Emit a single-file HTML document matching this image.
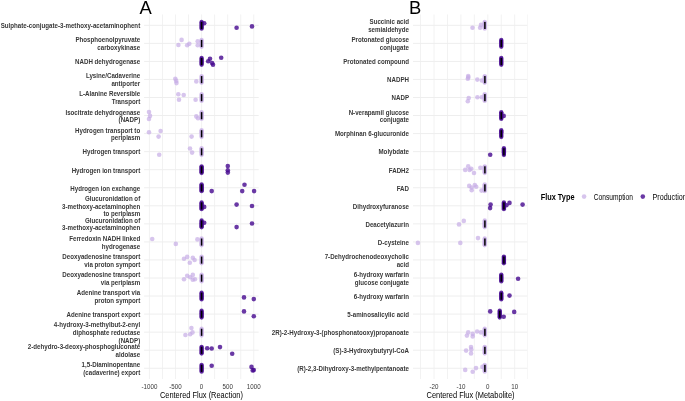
<!DOCTYPE html>
<html><head><meta charset="utf-8"><style>
html,body{margin:0;padding:0;background:#fff;}
body{width:685px;height:401px;overflow:hidden;}
svg{display:block;filter:blur(0.35px);}
text{font-family:"Liberation Sans",sans-serif;}
.g{stroke:#eeeeee;stroke-width:1;}
.gv{stroke:#f2f2f2;stroke-width:1;}
.p{fill:#45078f;fill-opacity:0.8;}
.c{fill:#c6ade6;fill-opacity:0.7;}
.yl{font-size:7.725px;font-weight:bold;fill:#383838;text-anchor:end;}
.xl{font-size:7.130px;fill:#383838;text-anchor:middle;}
.at{font-size:8.344px;fill:#000;text-anchor:middle;}
.tag{font-size:18.4px;fill:#000;}
.lt{font-size:8.464px;font-weight:bold;fill:#000;}
.ll{font-size:8.632px;fill:#000;}
</style></head><body>
<svg width="685" height="401" viewBox="0 0 685 401">
<rect width="685" height="401" fill="#fff"/>
<line x1="149.40" y1="14.45" x2="149.40" y2="379.05" class="gv"/>
<line x1="162.45" y1="14.45" x2="162.45" y2="379.05" class="gv"/>
<line x1="175.49" y1="14.45" x2="175.49" y2="379.05" class="gv"/>
<line x1="188.54" y1="14.45" x2="188.54" y2="379.05" class="gv"/>
<line x1="201.58" y1="14.45" x2="201.58" y2="379.05" class="gv"/>
<line x1="214.62" y1="14.45" x2="214.62" y2="379.05" class="gv"/>
<line x1="227.67" y1="14.45" x2="227.67" y2="379.05" class="gv"/>
<line x1="240.72" y1="14.45" x2="240.72" y2="379.05" class="gv"/>
<line x1="253.76" y1="14.45" x2="253.76" y2="379.05" class="gv"/>
<line x1="144.1" y1="25.30" x2="258.7" y2="25.30" class="g"/>
<line x1="144.1" y1="43.35" x2="258.7" y2="43.35" class="g"/>
<line x1="144.1" y1="61.40" x2="258.7" y2="61.40" class="g"/>
<line x1="144.1" y1="79.45" x2="258.7" y2="79.45" class="g"/>
<line x1="144.1" y1="97.50" x2="258.7" y2="97.50" class="g"/>
<line x1="144.1" y1="115.55" x2="258.7" y2="115.55" class="g"/>
<line x1="144.1" y1="133.60" x2="258.7" y2="133.60" class="g"/>
<line x1="144.1" y1="151.65" x2="258.7" y2="151.65" class="g"/>
<line x1="144.1" y1="169.70" x2="258.7" y2="169.70" class="g"/>
<line x1="144.1" y1="187.75" x2="258.7" y2="187.75" class="g"/>
<line x1="144.1" y1="205.80" x2="258.7" y2="205.80" class="g"/>
<line x1="144.1" y1="223.85" x2="258.7" y2="223.85" class="g"/>
<line x1="144.1" y1="241.90" x2="258.7" y2="241.90" class="g"/>
<line x1="144.1" y1="259.95" x2="258.7" y2="259.95" class="g"/>
<line x1="144.1" y1="278.00" x2="258.7" y2="278.00" class="g"/>
<line x1="144.1" y1="296.05" x2="258.7" y2="296.05" class="g"/>
<line x1="144.1" y1="314.10" x2="258.7" y2="314.10" class="g"/>
<line x1="144.1" y1="332.15" x2="258.7" y2="332.15" class="g"/>
<line x1="144.1" y1="350.20" x2="258.7" y2="350.20" class="g"/>
<line x1="144.1" y1="368.25" x2="258.7" y2="368.25" class="g"/>
<line x1="420.55" y1="14.45" x2="420.55" y2="379.05" class="gv"/>
<line x1="434.00" y1="14.45" x2="434.00" y2="379.05" class="gv"/>
<line x1="447.45" y1="14.45" x2="447.45" y2="379.05" class="gv"/>
<line x1="460.90" y1="14.45" x2="460.90" y2="379.05" class="gv"/>
<line x1="474.35" y1="14.45" x2="474.35" y2="379.05" class="gv"/>
<line x1="487.80" y1="14.45" x2="487.80" y2="379.05" class="gv"/>
<line x1="501.25" y1="14.45" x2="501.25" y2="379.05" class="gv"/>
<line x1="514.70" y1="14.45" x2="514.70" y2="379.05" class="gv"/>
<line x1="413.0" y1="25.30" x2="528.0" y2="25.30" class="g"/>
<line x1="413.0" y1="43.35" x2="528.0" y2="43.35" class="g"/>
<line x1="413.0" y1="61.40" x2="528.0" y2="61.40" class="g"/>
<line x1="413.0" y1="79.45" x2="528.0" y2="79.45" class="g"/>
<line x1="413.0" y1="97.50" x2="528.0" y2="97.50" class="g"/>
<line x1="413.0" y1="115.55" x2="528.0" y2="115.55" class="g"/>
<line x1="413.0" y1="133.60" x2="528.0" y2="133.60" class="g"/>
<line x1="413.0" y1="151.65" x2="528.0" y2="151.65" class="g"/>
<line x1="413.0" y1="169.70" x2="528.0" y2="169.70" class="g"/>
<line x1="413.0" y1="187.75" x2="528.0" y2="187.75" class="g"/>
<line x1="413.0" y1="205.80" x2="528.0" y2="205.80" class="g"/>
<line x1="413.0" y1="223.85" x2="528.0" y2="223.85" class="g"/>
<line x1="413.0" y1="241.90" x2="528.0" y2="241.90" class="g"/>
<line x1="413.0" y1="259.95" x2="528.0" y2="259.95" class="g"/>
<line x1="413.0" y1="278.00" x2="528.0" y2="278.00" class="g"/>
<line x1="413.0" y1="296.05" x2="528.0" y2="296.05" class="g"/>
<line x1="413.0" y1="314.10" x2="528.0" y2="314.10" class="g"/>
<line x1="413.0" y1="332.15" x2="528.0" y2="332.15" class="g"/>
<line x1="413.0" y1="350.20" x2="528.0" y2="350.20" class="g"/>
<line x1="413.0" y1="368.25" x2="528.0" y2="368.25" class="g"/>
<line x1="527.55" y1="14.45" x2="527.55" y2="379.05" stroke="#f6f6f6" stroke-width="0.9"/>
<circle cx="201.60" cy="21.90" r="2.15" class="p"/>
<circle cx="201.60" cy="22.87" r="2.15" class="p"/>
<circle cx="201.60" cy="23.84" r="2.15" class="p"/>
<circle cx="201.60" cy="24.81" r="2.15" class="p"/>
<circle cx="201.60" cy="25.79" r="2.15" class="p"/>
<circle cx="201.60" cy="26.76" r="2.15" class="p"/>
<circle cx="201.60" cy="27.73" r="2.15" class="p"/>
<circle cx="201.60" cy="28.70" r="2.15" class="p"/>
<circle cx="201.60" cy="39.95" r="2.15" class="c"/>
<circle cx="201.60" cy="40.92" r="2.15" class="c"/>
<circle cx="201.60" cy="41.89" r="2.15" class="c"/>
<circle cx="201.60" cy="42.86" r="2.15" class="c"/>
<circle cx="201.60" cy="43.84" r="2.15" class="c"/>
<circle cx="201.60" cy="44.81" r="2.15" class="c"/>
<circle cx="201.60" cy="45.78" r="2.15" class="c"/>
<circle cx="201.60" cy="46.75" r="2.15" class="c"/>
<circle cx="201.60" cy="58.00" r="2.15" class="p"/>
<circle cx="201.60" cy="58.97" r="2.15" class="p"/>
<circle cx="201.60" cy="59.94" r="2.15" class="p"/>
<circle cx="201.60" cy="60.91" r="2.15" class="p"/>
<circle cx="201.60" cy="61.89" r="2.15" class="p"/>
<circle cx="201.60" cy="62.86" r="2.15" class="p"/>
<circle cx="201.60" cy="63.83" r="2.15" class="p"/>
<circle cx="201.60" cy="64.80" r="2.15" class="p"/>
<circle cx="201.60" cy="76.05" r="2.15" class="c"/>
<circle cx="201.60" cy="77.02" r="2.15" class="c"/>
<circle cx="201.60" cy="77.99" r="2.15" class="c"/>
<circle cx="201.60" cy="78.96" r="2.15" class="c"/>
<circle cx="201.60" cy="79.94" r="2.15" class="c"/>
<circle cx="201.60" cy="80.91" r="2.15" class="c"/>
<circle cx="201.60" cy="81.88" r="2.15" class="c"/>
<circle cx="201.60" cy="82.85" r="2.15" class="c"/>
<circle cx="201.60" cy="94.10" r="2.15" class="c"/>
<circle cx="201.60" cy="95.07" r="2.15" class="c"/>
<circle cx="201.60" cy="96.04" r="2.15" class="c"/>
<circle cx="201.60" cy="97.01" r="2.15" class="c"/>
<circle cx="201.60" cy="97.99" r="2.15" class="c"/>
<circle cx="201.60" cy="98.96" r="2.15" class="c"/>
<circle cx="201.60" cy="99.93" r="2.15" class="c"/>
<circle cx="201.60" cy="100.90" r="2.15" class="c"/>
<circle cx="201.60" cy="112.15" r="2.15" class="c"/>
<circle cx="201.60" cy="113.12" r="2.15" class="c"/>
<circle cx="201.60" cy="114.09" r="2.15" class="c"/>
<circle cx="201.60" cy="115.06" r="2.15" class="c"/>
<circle cx="201.60" cy="116.04" r="2.15" class="c"/>
<circle cx="201.60" cy="117.01" r="2.15" class="c"/>
<circle cx="201.60" cy="117.98" r="2.15" class="c"/>
<circle cx="201.60" cy="118.95" r="2.15" class="c"/>
<circle cx="201.60" cy="130.20" r="2.15" class="c"/>
<circle cx="201.60" cy="131.17" r="2.15" class="c"/>
<circle cx="201.60" cy="132.14" r="2.15" class="c"/>
<circle cx="201.60" cy="133.11" r="2.15" class="c"/>
<circle cx="201.60" cy="134.09" r="2.15" class="c"/>
<circle cx="201.60" cy="135.06" r="2.15" class="c"/>
<circle cx="201.60" cy="136.03" r="2.15" class="c"/>
<circle cx="201.60" cy="137.00" r="2.15" class="c"/>
<circle cx="201.60" cy="148.25" r="2.15" class="c"/>
<circle cx="201.60" cy="149.22" r="2.15" class="c"/>
<circle cx="201.60" cy="150.19" r="2.15" class="c"/>
<circle cx="201.60" cy="151.16" r="2.15" class="c"/>
<circle cx="201.60" cy="152.14" r="2.15" class="c"/>
<circle cx="201.60" cy="153.11" r="2.15" class="c"/>
<circle cx="201.60" cy="154.08" r="2.15" class="c"/>
<circle cx="201.60" cy="155.05" r="2.15" class="c"/>
<circle cx="201.60" cy="166.30" r="2.15" class="p"/>
<circle cx="201.60" cy="167.27" r="2.15" class="p"/>
<circle cx="201.60" cy="168.24" r="2.15" class="p"/>
<circle cx="201.60" cy="169.21" r="2.15" class="p"/>
<circle cx="201.60" cy="170.19" r="2.15" class="p"/>
<circle cx="201.60" cy="171.16" r="2.15" class="p"/>
<circle cx="201.60" cy="172.13" r="2.15" class="p"/>
<circle cx="201.60" cy="173.10" r="2.15" class="p"/>
<circle cx="201.60" cy="184.35" r="2.15" class="p"/>
<circle cx="201.60" cy="185.32" r="2.15" class="p"/>
<circle cx="201.60" cy="186.29" r="2.15" class="p"/>
<circle cx="201.60" cy="187.26" r="2.15" class="p"/>
<circle cx="201.60" cy="188.24" r="2.15" class="p"/>
<circle cx="201.60" cy="189.21" r="2.15" class="p"/>
<circle cx="201.60" cy="190.18" r="2.15" class="p"/>
<circle cx="201.60" cy="191.15" r="2.15" class="p"/>
<circle cx="201.60" cy="202.40" r="2.15" class="p"/>
<circle cx="201.60" cy="203.37" r="2.15" class="p"/>
<circle cx="201.60" cy="204.34" r="2.15" class="p"/>
<circle cx="201.60" cy="205.31" r="2.15" class="p"/>
<circle cx="201.60" cy="206.29" r="2.15" class="p"/>
<circle cx="201.60" cy="207.26" r="2.15" class="p"/>
<circle cx="201.60" cy="208.23" r="2.15" class="p"/>
<circle cx="201.60" cy="209.20" r="2.15" class="p"/>
<circle cx="201.60" cy="220.45" r="2.15" class="p"/>
<circle cx="201.60" cy="221.42" r="2.15" class="p"/>
<circle cx="201.60" cy="222.39" r="2.15" class="p"/>
<circle cx="201.60" cy="223.36" r="2.15" class="p"/>
<circle cx="201.60" cy="224.34" r="2.15" class="p"/>
<circle cx="201.60" cy="225.31" r="2.15" class="p"/>
<circle cx="201.60" cy="226.28" r="2.15" class="p"/>
<circle cx="201.60" cy="227.25" r="2.15" class="p"/>
<circle cx="201.60" cy="238.50" r="2.15" class="c"/>
<circle cx="201.60" cy="239.47" r="2.15" class="c"/>
<circle cx="201.60" cy="240.44" r="2.15" class="c"/>
<circle cx="201.60" cy="241.41" r="2.15" class="c"/>
<circle cx="201.60" cy="242.39" r="2.15" class="c"/>
<circle cx="201.60" cy="243.36" r="2.15" class="c"/>
<circle cx="201.60" cy="244.33" r="2.15" class="c"/>
<circle cx="201.60" cy="245.30" r="2.15" class="c"/>
<circle cx="201.60" cy="256.55" r="2.15" class="c"/>
<circle cx="201.60" cy="257.52" r="2.15" class="c"/>
<circle cx="201.60" cy="258.49" r="2.15" class="c"/>
<circle cx="201.60" cy="259.46" r="2.15" class="c"/>
<circle cx="201.60" cy="260.44" r="2.15" class="c"/>
<circle cx="201.60" cy="261.41" r="2.15" class="c"/>
<circle cx="201.60" cy="262.38" r="2.15" class="c"/>
<circle cx="201.60" cy="263.35" r="2.15" class="c"/>
<circle cx="201.60" cy="274.60" r="2.15" class="c"/>
<circle cx="201.60" cy="275.57" r="2.15" class="c"/>
<circle cx="201.60" cy="276.54" r="2.15" class="c"/>
<circle cx="201.60" cy="277.51" r="2.15" class="c"/>
<circle cx="201.60" cy="278.49" r="2.15" class="c"/>
<circle cx="201.60" cy="279.46" r="2.15" class="c"/>
<circle cx="201.60" cy="280.43" r="2.15" class="c"/>
<circle cx="201.60" cy="281.40" r="2.15" class="c"/>
<circle cx="201.60" cy="292.65" r="2.15" class="p"/>
<circle cx="201.60" cy="293.62" r="2.15" class="p"/>
<circle cx="201.60" cy="294.59" r="2.15" class="p"/>
<circle cx="201.60" cy="295.56" r="2.15" class="p"/>
<circle cx="201.60" cy="296.54" r="2.15" class="p"/>
<circle cx="201.60" cy="297.51" r="2.15" class="p"/>
<circle cx="201.60" cy="298.48" r="2.15" class="p"/>
<circle cx="201.60" cy="299.45" r="2.15" class="p"/>
<circle cx="201.60" cy="310.70" r="2.15" class="p"/>
<circle cx="201.60" cy="311.67" r="2.15" class="p"/>
<circle cx="201.60" cy="312.64" r="2.15" class="p"/>
<circle cx="201.60" cy="313.61" r="2.15" class="p"/>
<circle cx="201.60" cy="314.59" r="2.15" class="p"/>
<circle cx="201.60" cy="315.56" r="2.15" class="p"/>
<circle cx="201.60" cy="316.53" r="2.15" class="p"/>
<circle cx="201.60" cy="317.50" r="2.15" class="p"/>
<circle cx="201.60" cy="328.75" r="2.15" class="c"/>
<circle cx="201.60" cy="329.72" r="2.15" class="c"/>
<circle cx="201.60" cy="330.69" r="2.15" class="c"/>
<circle cx="201.60" cy="331.66" r="2.15" class="c"/>
<circle cx="201.60" cy="332.64" r="2.15" class="c"/>
<circle cx="201.60" cy="333.61" r="2.15" class="c"/>
<circle cx="201.60" cy="334.58" r="2.15" class="c"/>
<circle cx="201.60" cy="335.55" r="2.15" class="c"/>
<circle cx="201.60" cy="346.80" r="2.15" class="p"/>
<circle cx="201.60" cy="347.77" r="2.15" class="p"/>
<circle cx="201.60" cy="348.74" r="2.15" class="p"/>
<circle cx="201.60" cy="349.71" r="2.15" class="p"/>
<circle cx="201.60" cy="350.69" r="2.15" class="p"/>
<circle cx="201.60" cy="351.66" r="2.15" class="p"/>
<circle cx="201.60" cy="352.63" r="2.15" class="p"/>
<circle cx="201.60" cy="353.60" r="2.15" class="p"/>
<circle cx="201.60" cy="364.85" r="2.15" class="p"/>
<circle cx="201.60" cy="365.82" r="2.15" class="p"/>
<circle cx="201.60" cy="366.79" r="2.15" class="p"/>
<circle cx="201.60" cy="367.76" r="2.15" class="p"/>
<circle cx="201.60" cy="368.74" r="2.15" class="p"/>
<circle cx="201.60" cy="369.71" r="2.15" class="p"/>
<circle cx="201.60" cy="370.68" r="2.15" class="p"/>
<circle cx="201.60" cy="371.65" r="2.15" class="p"/>
<circle cx="204.20" cy="23.30" r="2.3" class="p"/>
<circle cx="236.60" cy="27.70" r="2.3" class="p"/>
<circle cx="252.00" cy="26.40" r="2.3" class="p"/>
<circle cx="181.60" cy="39.90" r="2.3" class="c"/>
<circle cx="178.40" cy="45.00" r="2.3" class="c"/>
<circle cx="187.20" cy="45.20" r="2.3" class="c"/>
<circle cx="189.30" cy="43.80" r="2.3" class="c"/>
<circle cx="197.70" cy="41.20" r="2.3" class="c"/>
<circle cx="197.70" cy="45.20" r="2.3" class="c"/>
<circle cx="210.00" cy="58.70" r="2.3" class="p"/>
<circle cx="208.20" cy="61.30" r="2.3" class="p"/>
<circle cx="212.10" cy="63.10" r="2.3" class="p"/>
<circle cx="213.00" cy="64.80" r="2.3" class="p"/>
<circle cx="221.20" cy="57.80" r="2.3" class="p"/>
<circle cx="175.30" cy="78.80" r="2.3" class="c"/>
<circle cx="176.20" cy="80.90" r="2.3" class="c"/>
<circle cx="176.50" cy="83.10" r="2.3" class="c"/>
<circle cx="196.30" cy="81.40" r="2.3" class="c"/>
<circle cx="178.30" cy="94.20" r="2.3" class="c"/>
<circle cx="183.70" cy="95.00" r="2.3" class="c"/>
<circle cx="179.00" cy="99.80" r="2.3" class="c"/>
<circle cx="195.60" cy="99.80" r="2.3" class="c"/>
<circle cx="149.00" cy="112.00" r="2.3" class="c"/>
<circle cx="150.00" cy="115.90" r="2.3" class="c"/>
<circle cx="149.00" cy="119.00" r="2.3" class="c"/>
<circle cx="196.30" cy="116.40" r="2.3" class="c"/>
<circle cx="198.00" cy="118.20" r="2.3" class="c"/>
<circle cx="149.00" cy="132.20" r="2.3" class="c"/>
<circle cx="160.60" cy="131.00" r="2.3" class="c"/>
<circle cx="158.60" cy="136.60" r="2.3" class="c"/>
<circle cx="191.60" cy="136.60" r="2.3" class="c"/>
<circle cx="159.20" cy="154.80" r="2.3" class="c"/>
<circle cx="190.00" cy="148.50" r="2.3" class="c"/>
<circle cx="192.10" cy="152.60" r="2.3" class="c"/>
<circle cx="227.80" cy="166.10" r="2.3" class="p"/>
<circle cx="227.80" cy="170.30" r="2.3" class="p"/>
<circle cx="227.80" cy="172.60" r="2.3" class="p"/>
<circle cx="211.70" cy="191.10" r="2.3" class="p"/>
<circle cx="244.50" cy="184.70" r="2.3" class="p"/>
<circle cx="242.20" cy="191.10" r="2.3" class="p"/>
<circle cx="254.10" cy="191.10" r="2.3" class="p"/>
<circle cx="204.20" cy="206.90" r="2.3" class="p"/>
<circle cx="236.60" cy="204.60" r="2.3" class="p"/>
<circle cx="252.00" cy="206.00" r="2.3" class="p"/>
<circle cx="204.20" cy="222.70" r="2.3" class="p"/>
<circle cx="236.60" cy="227.10" r="2.3" class="p"/>
<circle cx="252.00" cy="223.50" r="2.3" class="p"/>
<circle cx="152.20" cy="239.00" r="2.3" class="c"/>
<circle cx="175.80" cy="243.90" r="2.3" class="c"/>
<circle cx="197.40" cy="239.40" r="2.3" class="c"/>
<circle cx="184.00" cy="258.80" r="2.3" class="c"/>
<circle cx="187.20" cy="256.90" r="2.3" class="c"/>
<circle cx="192.80" cy="257.80" r="2.3" class="c"/>
<circle cx="194.60" cy="260.00" r="2.3" class="c"/>
<circle cx="189.80" cy="262.70" r="2.3" class="c"/>
<circle cx="184.00" cy="279.30" r="2.3" class="c"/>
<circle cx="187.20" cy="275.80" r="2.3" class="c"/>
<circle cx="190.20" cy="277.20" r="2.3" class="c"/>
<circle cx="192.80" cy="274.90" r="2.3" class="c"/>
<circle cx="192.80" cy="279.70" r="2.3" class="c"/>
<circle cx="194.90" cy="279.30" r="2.3" class="c"/>
<circle cx="244.00" cy="297.40" r="2.3" class="p"/>
<circle cx="253.80" cy="299.10" r="2.3" class="p"/>
<circle cx="244.00" cy="311.40" r="2.3" class="p"/>
<circle cx="253.80" cy="316.30" r="2.3" class="p"/>
<circle cx="185.40" cy="335.00" r="2.3" class="c"/>
<circle cx="190.20" cy="334.20" r="2.3" class="c"/>
<circle cx="191.40" cy="328.00" r="2.3" class="c"/>
<circle cx="192.50" cy="332.40" r="2.3" class="c"/>
<circle cx="207.20" cy="348.20" r="2.3" class="p"/>
<circle cx="211.70" cy="348.50" r="2.3" class="p"/>
<circle cx="220.00" cy="347.10" r="2.3" class="p"/>
<circle cx="232.20" cy="353.80" r="2.3" class="p"/>
<circle cx="211.70" cy="365.70" r="2.3" class="p"/>
<circle cx="251.50" cy="366.90" r="2.3" class="p"/>
<circle cx="252.70" cy="370.40" r="2.3" class="p"/>
<circle cx="253.80" cy="370.10" r="2.3" class="p"/>
<circle cx="484.70" cy="21.90" r="2.15" class="c"/>
<circle cx="484.70" cy="22.87" r="2.15" class="c"/>
<circle cx="484.70" cy="23.84" r="2.15" class="c"/>
<circle cx="484.70" cy="24.81" r="2.15" class="c"/>
<circle cx="484.70" cy="25.79" r="2.15" class="c"/>
<circle cx="484.70" cy="26.76" r="2.15" class="c"/>
<circle cx="484.70" cy="27.73" r="2.15" class="c"/>
<circle cx="484.70" cy="28.70" r="2.15" class="c"/>
<circle cx="501.30" cy="39.95" r="2.15" class="p"/>
<circle cx="501.30" cy="40.92" r="2.15" class="p"/>
<circle cx="501.30" cy="41.89" r="2.15" class="p"/>
<circle cx="501.30" cy="42.86" r="2.15" class="p"/>
<circle cx="501.30" cy="43.84" r="2.15" class="p"/>
<circle cx="501.30" cy="44.81" r="2.15" class="p"/>
<circle cx="501.30" cy="45.78" r="2.15" class="p"/>
<circle cx="501.30" cy="46.75" r="2.15" class="p"/>
<circle cx="501.30" cy="58.00" r="2.15" class="p"/>
<circle cx="501.30" cy="58.97" r="2.15" class="p"/>
<circle cx="501.30" cy="59.94" r="2.15" class="p"/>
<circle cx="501.30" cy="60.91" r="2.15" class="p"/>
<circle cx="501.30" cy="61.89" r="2.15" class="p"/>
<circle cx="501.30" cy="62.86" r="2.15" class="p"/>
<circle cx="501.30" cy="63.83" r="2.15" class="p"/>
<circle cx="501.30" cy="64.80" r="2.15" class="p"/>
<circle cx="484.70" cy="76.05" r="2.15" class="c"/>
<circle cx="484.70" cy="77.02" r="2.15" class="c"/>
<circle cx="484.70" cy="77.99" r="2.15" class="c"/>
<circle cx="484.70" cy="78.96" r="2.15" class="c"/>
<circle cx="484.70" cy="79.94" r="2.15" class="c"/>
<circle cx="484.70" cy="80.91" r="2.15" class="c"/>
<circle cx="484.70" cy="81.88" r="2.15" class="c"/>
<circle cx="484.70" cy="82.85" r="2.15" class="c"/>
<circle cx="484.70" cy="94.10" r="2.15" class="c"/>
<circle cx="484.70" cy="95.07" r="2.15" class="c"/>
<circle cx="484.70" cy="96.04" r="2.15" class="c"/>
<circle cx="484.70" cy="97.01" r="2.15" class="c"/>
<circle cx="484.70" cy="97.99" r="2.15" class="c"/>
<circle cx="484.70" cy="98.96" r="2.15" class="c"/>
<circle cx="484.70" cy="99.93" r="2.15" class="c"/>
<circle cx="484.70" cy="100.90" r="2.15" class="c"/>
<circle cx="501.30" cy="112.15" r="2.15" class="p"/>
<circle cx="501.30" cy="113.12" r="2.15" class="p"/>
<circle cx="501.30" cy="114.09" r="2.15" class="p"/>
<circle cx="501.30" cy="115.06" r="2.15" class="p"/>
<circle cx="501.30" cy="116.04" r="2.15" class="p"/>
<circle cx="501.30" cy="117.01" r="2.15" class="p"/>
<circle cx="501.30" cy="117.98" r="2.15" class="p"/>
<circle cx="501.30" cy="118.95" r="2.15" class="p"/>
<circle cx="501.30" cy="130.20" r="2.15" class="p"/>
<circle cx="501.30" cy="131.17" r="2.15" class="p"/>
<circle cx="501.30" cy="132.14" r="2.15" class="p"/>
<circle cx="501.30" cy="133.11" r="2.15" class="p"/>
<circle cx="501.30" cy="134.09" r="2.15" class="p"/>
<circle cx="501.30" cy="135.06" r="2.15" class="p"/>
<circle cx="501.30" cy="136.03" r="2.15" class="p"/>
<circle cx="501.30" cy="137.00" r="2.15" class="p"/>
<circle cx="503.90" cy="148.25" r="2.15" class="p"/>
<circle cx="503.90" cy="149.22" r="2.15" class="p"/>
<circle cx="503.90" cy="150.19" r="2.15" class="p"/>
<circle cx="503.90" cy="151.16" r="2.15" class="p"/>
<circle cx="503.90" cy="152.14" r="2.15" class="p"/>
<circle cx="503.90" cy="153.11" r="2.15" class="p"/>
<circle cx="503.90" cy="154.08" r="2.15" class="p"/>
<circle cx="503.90" cy="155.05" r="2.15" class="p"/>
<circle cx="484.70" cy="166.30" r="2.15" class="c"/>
<circle cx="484.70" cy="167.27" r="2.15" class="c"/>
<circle cx="484.70" cy="168.24" r="2.15" class="c"/>
<circle cx="484.70" cy="169.21" r="2.15" class="c"/>
<circle cx="484.70" cy="170.19" r="2.15" class="c"/>
<circle cx="484.70" cy="171.16" r="2.15" class="c"/>
<circle cx="484.70" cy="172.13" r="2.15" class="c"/>
<circle cx="484.70" cy="173.10" r="2.15" class="c"/>
<circle cx="484.70" cy="184.35" r="2.15" class="c"/>
<circle cx="484.70" cy="185.32" r="2.15" class="c"/>
<circle cx="484.70" cy="186.29" r="2.15" class="c"/>
<circle cx="484.70" cy="187.26" r="2.15" class="c"/>
<circle cx="484.70" cy="188.24" r="2.15" class="c"/>
<circle cx="484.70" cy="189.21" r="2.15" class="c"/>
<circle cx="484.70" cy="190.18" r="2.15" class="c"/>
<circle cx="484.70" cy="191.15" r="2.15" class="c"/>
<circle cx="503.90" cy="202.40" r="2.15" class="p"/>
<circle cx="503.90" cy="203.37" r="2.15" class="p"/>
<circle cx="503.90" cy="204.34" r="2.15" class="p"/>
<circle cx="503.90" cy="205.31" r="2.15" class="p"/>
<circle cx="503.90" cy="206.29" r="2.15" class="p"/>
<circle cx="503.90" cy="207.26" r="2.15" class="p"/>
<circle cx="503.90" cy="208.23" r="2.15" class="p"/>
<circle cx="503.90" cy="209.20" r="2.15" class="p"/>
<circle cx="484.70" cy="220.45" r="2.15" class="c"/>
<circle cx="484.70" cy="221.42" r="2.15" class="c"/>
<circle cx="484.70" cy="222.39" r="2.15" class="c"/>
<circle cx="484.70" cy="223.36" r="2.15" class="c"/>
<circle cx="484.70" cy="224.34" r="2.15" class="c"/>
<circle cx="484.70" cy="225.31" r="2.15" class="c"/>
<circle cx="484.70" cy="226.28" r="2.15" class="c"/>
<circle cx="484.70" cy="227.25" r="2.15" class="c"/>
<circle cx="484.70" cy="238.50" r="2.15" class="c"/>
<circle cx="484.70" cy="239.47" r="2.15" class="c"/>
<circle cx="484.70" cy="240.44" r="2.15" class="c"/>
<circle cx="484.70" cy="241.41" r="2.15" class="c"/>
<circle cx="484.70" cy="242.39" r="2.15" class="c"/>
<circle cx="484.70" cy="243.36" r="2.15" class="c"/>
<circle cx="484.70" cy="244.33" r="2.15" class="c"/>
<circle cx="484.70" cy="245.30" r="2.15" class="c"/>
<circle cx="503.90" cy="256.55" r="2.15" class="p"/>
<circle cx="503.90" cy="257.52" r="2.15" class="p"/>
<circle cx="503.90" cy="258.49" r="2.15" class="p"/>
<circle cx="503.90" cy="259.46" r="2.15" class="p"/>
<circle cx="503.90" cy="260.44" r="2.15" class="p"/>
<circle cx="503.90" cy="261.41" r="2.15" class="p"/>
<circle cx="503.90" cy="262.38" r="2.15" class="p"/>
<circle cx="503.90" cy="263.35" r="2.15" class="p"/>
<circle cx="501.30" cy="274.60" r="2.15" class="p"/>
<circle cx="501.30" cy="275.57" r="2.15" class="p"/>
<circle cx="501.30" cy="276.54" r="2.15" class="p"/>
<circle cx="501.30" cy="277.51" r="2.15" class="p"/>
<circle cx="501.30" cy="278.49" r="2.15" class="p"/>
<circle cx="501.30" cy="279.46" r="2.15" class="p"/>
<circle cx="501.30" cy="280.43" r="2.15" class="p"/>
<circle cx="501.30" cy="281.40" r="2.15" class="p"/>
<circle cx="501.30" cy="292.65" r="2.15" class="p"/>
<circle cx="501.30" cy="293.62" r="2.15" class="p"/>
<circle cx="501.30" cy="294.59" r="2.15" class="p"/>
<circle cx="501.30" cy="295.56" r="2.15" class="p"/>
<circle cx="501.30" cy="296.54" r="2.15" class="p"/>
<circle cx="501.30" cy="297.51" r="2.15" class="p"/>
<circle cx="501.30" cy="298.48" r="2.15" class="p"/>
<circle cx="501.30" cy="299.45" r="2.15" class="p"/>
<circle cx="499.70" cy="310.70" r="2.15" class="p"/>
<circle cx="499.70" cy="311.67" r="2.15" class="p"/>
<circle cx="499.70" cy="312.64" r="2.15" class="p"/>
<circle cx="499.70" cy="313.61" r="2.15" class="p"/>
<circle cx="499.70" cy="314.59" r="2.15" class="p"/>
<circle cx="499.70" cy="315.56" r="2.15" class="p"/>
<circle cx="499.70" cy="316.53" r="2.15" class="p"/>
<circle cx="499.70" cy="317.50" r="2.15" class="p"/>
<circle cx="484.70" cy="328.75" r="2.15" class="c"/>
<circle cx="484.70" cy="329.72" r="2.15" class="c"/>
<circle cx="484.70" cy="330.69" r="2.15" class="c"/>
<circle cx="484.70" cy="331.66" r="2.15" class="c"/>
<circle cx="484.70" cy="332.64" r="2.15" class="c"/>
<circle cx="484.70" cy="333.61" r="2.15" class="c"/>
<circle cx="484.70" cy="334.58" r="2.15" class="c"/>
<circle cx="484.70" cy="335.55" r="2.15" class="c"/>
<circle cx="484.70" cy="346.80" r="2.15" class="c"/>
<circle cx="484.70" cy="347.77" r="2.15" class="c"/>
<circle cx="484.70" cy="348.74" r="2.15" class="c"/>
<circle cx="484.70" cy="349.71" r="2.15" class="c"/>
<circle cx="484.70" cy="350.69" r="2.15" class="c"/>
<circle cx="484.70" cy="351.66" r="2.15" class="c"/>
<circle cx="484.70" cy="352.63" r="2.15" class="c"/>
<circle cx="484.70" cy="353.60" r="2.15" class="c"/>
<circle cx="484.70" cy="364.85" r="2.15" class="c"/>
<circle cx="484.70" cy="365.82" r="2.15" class="c"/>
<circle cx="484.70" cy="366.79" r="2.15" class="c"/>
<circle cx="484.70" cy="367.76" r="2.15" class="c"/>
<circle cx="484.70" cy="368.74" r="2.15" class="c"/>
<circle cx="484.70" cy="369.71" r="2.15" class="c"/>
<circle cx="484.70" cy="370.68" r="2.15" class="c"/>
<circle cx="484.70" cy="371.65" r="2.15" class="c"/>
<circle cx="472.50" cy="27.70" r="2.3" class="c"/>
<circle cx="480.10" cy="27.70" r="2.3" class="c"/>
<circle cx="481.00" cy="24.90" r="2.3" class="c"/>
<circle cx="468.20" cy="76.10" r="2.3" class="c"/>
<circle cx="467.80" cy="78.80" r="2.3" class="c"/>
<circle cx="468.30" cy="77.40" r="2.3" class="c"/>
<circle cx="477.30" cy="79.60" r="2.3" class="c"/>
<circle cx="481.80" cy="80.50" r="2.3" class="c"/>
<circle cx="468.70" cy="98.00" r="2.3" class="c"/>
<circle cx="467.80" cy="101.20" r="2.3" class="c"/>
<circle cx="477.40" cy="97.20" r="2.3" class="c"/>
<circle cx="481.80" cy="97.20" r="2.3" class="c"/>
<circle cx="503.70" cy="115.90" r="2.3" class="p"/>
<circle cx="490.20" cy="154.80" r="2.3" class="p"/>
<circle cx="465.20" cy="169.90" r="2.3" class="c"/>
<circle cx="468.20" cy="166.40" r="2.3" class="c"/>
<circle cx="469.60" cy="169.90" r="2.3" class="c"/>
<circle cx="471.30" cy="168.70" r="2.3" class="c"/>
<circle cx="474.00" cy="173.00" r="2.3" class="c"/>
<circle cx="480.40" cy="167.80" r="2.3" class="c"/>
<circle cx="469.20" cy="185.90" r="2.3" class="c"/>
<circle cx="471.70" cy="187.60" r="2.3" class="c"/>
<circle cx="471.70" cy="190.30" r="2.3" class="c"/>
<circle cx="474.80" cy="185.00" r="2.3" class="c"/>
<circle cx="476.20" cy="186.80" r="2.3" class="c"/>
<circle cx="481.50" cy="190.60" r="2.3" class="c"/>
<circle cx="490.60" cy="204.60" r="2.3" class="p"/>
<circle cx="490.10" cy="208.10" r="2.3" class="p"/>
<circle cx="506.40" cy="205.20" r="2.3" class="p"/>
<circle cx="509.50" cy="202.90" r="2.3" class="p"/>
<circle cx="522.60" cy="204.60" r="2.3" class="p"/>
<circle cx="459.00" cy="224.40" r="2.3" class="c"/>
<circle cx="463.80" cy="220.90" r="2.3" class="c"/>
<circle cx="417.90" cy="242.90" r="2.3" class="c"/>
<circle cx="460.30" cy="242.90" r="2.3" class="c"/>
<circle cx="478.00" cy="238.10" r="2.3" class="c"/>
<circle cx="518.10" cy="278.80" r="2.3" class="p"/>
<circle cx="509.50" cy="295.60" r="2.3" class="p"/>
<circle cx="490.20" cy="311.40" r="2.3" class="p"/>
<circle cx="503.70" cy="316.70" r="2.3" class="p"/>
<circle cx="514.20" cy="311.90" r="2.3" class="p"/>
<circle cx="466.90" cy="335.60" r="2.3" class="c"/>
<circle cx="468.20" cy="332.40" r="2.3" class="c"/>
<circle cx="472.70" cy="333.90" r="2.3" class="c"/>
<circle cx="472.70" cy="336.40" r="2.3" class="c"/>
<circle cx="477.10" cy="331.50" r="2.3" class="c"/>
<circle cx="481.00" cy="332.40" r="2.3" class="c"/>
<circle cx="466.10" cy="350.60" r="2.3" class="c"/>
<circle cx="471.00" cy="347.10" r="2.3" class="c"/>
<circle cx="471.30" cy="349.40" r="2.3" class="c"/>
<circle cx="471.00" cy="353.40" r="2.3" class="c"/>
<circle cx="465.20" cy="369.90" r="2.3" class="c"/>
<circle cx="472.70" cy="371.80" r="2.3" class="c"/>
<circle cx="476.00" cy="368.10" r="2.3" class="c"/>
<circle cx="482.40" cy="366.90" r="2.3" class="c"/>
<rect x="200.85" y="21.90" width="1.5" height="7.1" fill="#000"/>
<rect x="484.15" y="21.90" width="1.5" height="7.1" fill="#000"/>
<rect x="200.85" y="39.95" width="1.5" height="7.1" fill="#000"/>
<rect x="500.55" y="39.95" width="1.5" height="7.1" fill="#000"/>
<rect x="200.85" y="58.00" width="1.5" height="7.1" fill="#000"/>
<rect x="500.55" y="58.00" width="1.5" height="7.1" fill="#000"/>
<rect x="200.85" y="76.05" width="1.5" height="7.1" fill="#000"/>
<rect x="484.15" y="76.05" width="1.5" height="7.1" fill="#000"/>
<rect x="200.85" y="94.10" width="1.5" height="7.1" fill="#000"/>
<rect x="484.15" y="94.10" width="1.5" height="7.1" fill="#000"/>
<rect x="200.85" y="112.15" width="1.5" height="7.1" fill="#000"/>
<rect x="500.55" y="112.15" width="1.5" height="7.1" fill="#000"/>
<rect x="200.85" y="130.20" width="1.5" height="7.1" fill="#000"/>
<rect x="500.55" y="130.20" width="1.5" height="7.1" fill="#000"/>
<rect x="200.85" y="148.25" width="1.5" height="7.1" fill="#000"/>
<rect x="503.15" y="148.25" width="1.5" height="7.1" fill="#000"/>
<rect x="200.85" y="166.30" width="1.5" height="7.1" fill="#000"/>
<rect x="484.15" y="166.30" width="1.5" height="7.1" fill="#000"/>
<rect x="200.85" y="184.35" width="1.5" height="7.1" fill="#000"/>
<rect x="484.15" y="184.35" width="1.5" height="7.1" fill="#000"/>
<rect x="200.85" y="202.40" width="1.5" height="7.1" fill="#000"/>
<rect x="503.15" y="202.40" width="1.5" height="7.1" fill="#000"/>
<rect x="200.85" y="220.45" width="1.5" height="7.1" fill="#000"/>
<rect x="484.15" y="220.45" width="1.5" height="7.1" fill="#000"/>
<rect x="200.85" y="238.50" width="1.5" height="7.1" fill="#000"/>
<rect x="484.15" y="238.50" width="1.5" height="7.1" fill="#000"/>
<rect x="200.85" y="256.55" width="1.5" height="7.1" fill="#000"/>
<rect x="503.15" y="256.55" width="1.5" height="7.1" fill="#000"/>
<rect x="200.85" y="274.60" width="1.5" height="7.1" fill="#000"/>
<rect x="500.55" y="274.60" width="1.5" height="7.1" fill="#000"/>
<rect x="200.85" y="292.65" width="1.5" height="7.1" fill="#000"/>
<rect x="500.55" y="292.65" width="1.5" height="7.1" fill="#000"/>
<rect x="200.85" y="310.70" width="1.5" height="7.1" fill="#000"/>
<rect x="498.95" y="310.70" width="1.5" height="7.1" fill="#000"/>
<rect x="200.85" y="328.75" width="1.5" height="7.1" fill="#000"/>
<rect x="484.15" y="328.75" width="1.5" height="7.1" fill="#000"/>
<rect x="200.85" y="346.80" width="1.5" height="7.1" fill="#000"/>
<rect x="484.15" y="346.80" width="1.5" height="7.1" fill="#000"/>
<rect x="200.85" y="364.85" width="1.5" height="7.1" fill="#000"/>
<rect x="484.15" y="364.85" width="1.5" height="7.1" fill="#000"/>
<text transform="matrix(0.8000 0 0 1 140.2 28.10)" class="yl">Sulphate-conjugate-3-methoxy-acetaminophent</text>
<text transform="matrix(0.8000 0 0 1 140.2 42.32)" class="yl">Phosphoenolpyruvate</text>
<text transform="matrix(0.8000 0 0 1 140.2 49.97)" class="yl">carboxykinase</text>
<text transform="matrix(0.8000 0 0 1 140.2 64.20)" class="yl">NADH dehydrogenase</text>
<text transform="matrix(0.8000 0 0 1 140.2 78.42)" class="yl">Lysine/Cadaverine</text>
<text transform="matrix(0.8000 0 0 1 140.2 86.08)" class="yl">antiporter</text>
<text transform="matrix(0.8000 0 0 1 140.2 96.47)" class="yl">L-Alanine Reversible</text>
<text transform="matrix(0.8000 0 0 1 140.2 104.12)" class="yl">Transport</text>
<text transform="matrix(0.8000 0 0 1 140.2 114.52)" class="yl">Isocitrate dehydrogenase</text>
<text transform="matrix(0.8000 0 0 1 140.2 122.17)" class="yl">(NADP)</text>
<text transform="matrix(0.8000 0 0 1 140.2 132.58)" class="yl">Hydrogen transport to</text>
<text transform="matrix(0.8000 0 0 1 140.2 140.23)" class="yl">periplasm</text>
<text transform="matrix(0.8000 0 0 1 140.2 154.45)" class="yl">Hydrogen transport</text>
<text transform="matrix(0.8000 0 0 1 140.2 172.50)" class="yl">Hydrogen ion transport</text>
<text transform="matrix(0.8000 0 0 1 140.2 190.55)" class="yl">Hydrogen ion exchange</text>
<text transform="matrix(0.8000 0 0 1 140.2 200.95)" class="yl">Glucuronidation of</text>
<text transform="matrix(0.8000 0 0 1 140.2 208.60)" class="yl">3-methoxy-acetaminophen</text>
<text transform="matrix(0.8000 0 0 1 140.2 216.25)" class="yl">to periplasm</text>
<text transform="matrix(0.8000 0 0 1 140.2 222.83)" class="yl">Glucuronidation of</text>
<text transform="matrix(0.8000 0 0 1 140.2 230.48)" class="yl">3-methoxy-acetaminophen</text>
<text transform="matrix(0.8000 0 0 1 140.2 240.88)" class="yl">Ferredoxin NADH linked</text>
<text transform="matrix(0.8000 0 0 1 140.2 248.53)" class="yl">hydrogenase</text>
<text transform="matrix(0.8000 0 0 1 140.2 258.93)" class="yl">Deoxyadenosine transport</text>
<text transform="matrix(0.8000 0 0 1 140.2 266.57)" class="yl">via proton symport</text>
<text transform="matrix(0.8000 0 0 1 140.2 276.98)" class="yl">Deoxyadenosine transport</text>
<text transform="matrix(0.8000 0 0 1 140.2 284.62)" class="yl">via periplasm</text>
<text transform="matrix(0.8000 0 0 1 140.2 295.03)" class="yl">Adenine transport via</text>
<text transform="matrix(0.8000 0 0 1 140.2 302.68)" class="yl">proton symport</text>
<text transform="matrix(0.8000 0 0 1 140.2 316.90)" class="yl">Adenine transport export</text>
<text transform="matrix(0.8000 0 0 1 140.2 327.30)" class="yl">4-hydroxy-3-methylbut-2-enyl</text>
<text transform="matrix(0.8000 0 0 1 140.2 334.95)" class="yl">diphosphate reductase</text>
<text transform="matrix(0.8000 0 0 1 140.2 342.60)" class="yl">(NADP)</text>
<text transform="matrix(0.8000 0 0 1 140.2 349.18)" class="yl">2-dehydro-3-deoxy-phosphogluconate</text>
<text transform="matrix(0.8000 0 0 1 140.2 356.83)" class="yl">aldolase</text>
<text transform="matrix(0.8000 0 0 1 140.2 367.23)" class="yl">1,5-Diaminopentane</text>
<text transform="matrix(0.8000 0 0 1 140.2 374.88)" class="yl">(cadaverine) export</text>
<text transform="matrix(0.8000 0 0 1 409.0 24.28)" class="yl">Succinic acid</text>
<text transform="matrix(0.8000 0 0 1 409.0 31.93)" class="yl">semialdehyde</text>
<text transform="matrix(0.8000 0 0 1 409.0 42.32)" class="yl">Protonated glucose</text>
<text transform="matrix(0.8000 0 0 1 409.0 49.97)" class="yl">conjugate</text>
<text transform="matrix(0.8000 0 0 1 409.0 64.20)" class="yl">Protonated compound</text>
<text transform="matrix(0.8000 0 0 1 409.0 82.25)" class="yl">NADPH</text>
<text transform="matrix(0.8000 0 0 1 409.0 100.30)" class="yl">NADP</text>
<text transform="matrix(0.8000 0 0 1 409.0 114.52)" class="yl">N-verapamil glucose</text>
<text transform="matrix(0.8000 0 0 1 409.0 122.17)" class="yl">conjugate</text>
<text transform="matrix(0.8000 0 0 1 409.0 136.40)" class="yl">Morphinan 6-glucuronide</text>
<text transform="matrix(0.8000 0 0 1 409.0 154.45)" class="yl">Molybdate</text>
<text transform="matrix(0.8000 0 0 1 409.0 172.50)" class="yl">FADH2</text>
<text transform="matrix(0.8000 0 0 1 409.0 190.55)" class="yl">FAD</text>
<text transform="matrix(0.8000 0 0 1 409.0 208.60)" class="yl">Dihydroxyfuranose</text>
<text transform="matrix(0.8000 0 0 1 409.0 226.65)" class="yl">Deacetylazurin</text>
<text transform="matrix(0.8000 0 0 1 409.0 244.70)" class="yl">D-cysteine</text>
<text transform="matrix(0.8000 0 0 1 409.0 258.93)" class="yl">7-Dehydrochenodeoxycholic</text>
<text transform="matrix(0.8000 0 0 1 409.0 266.57)" class="yl">acid</text>
<text transform="matrix(0.8000 0 0 1 409.0 276.98)" class="yl">6-hydroxy warfarin</text>
<text transform="matrix(0.8000 0 0 1 409.0 284.62)" class="yl">glucose conjugate</text>
<text transform="matrix(0.8000 0 0 1 409.0 298.85)" class="yl">6-hydroxy warfarin</text>
<text transform="matrix(0.8000 0 0 1 409.0 316.90)" class="yl">5-aminosalicylic acid</text>
<text transform="matrix(0.8000 0 0 1 409.0 334.95)" class="yl">2R)-2-Hydroxy-3-(phosphonatooxy)propanoate</text>
<text transform="matrix(0.8000 0 0 1 409.0 353.00)" class="yl">(S)-3-Hydroxybutyryl-CoA</text>
<text transform="matrix(0.8000 0 0 1 409.0 371.05)" class="yl">(R)-2,3-Dihydroxy-3-methylpentanoate</text>
<text transform="matrix(0.8696 0 0 1 149.40 388.6)" class="xl">-1000</text>
<text transform="matrix(0.8696 0 0 1 175.49 388.6)" class="xl">-500</text>
<text transform="matrix(0.8696 0 0 1 201.58 388.6)" class="xl">0</text>
<text transform="matrix(0.8696 0 0 1 227.67 388.6)" class="xl">500</text>
<text transform="matrix(0.8696 0 0 1 253.76 388.6)" class="xl">1000</text>
<text transform="matrix(0.8696 0 0 1 434.00 388.6)" class="xl">-20</text>
<text transform="matrix(0.8696 0 0 1 460.90 388.6)" class="xl">-10</text>
<text transform="matrix(0.8696 0 0 1 487.80 388.6)" class="xl">0</text>
<text transform="matrix(0.8696 0 0 1 514.70 388.6)" class="xl">10</text>
<text transform="matrix(0.8929 0 0 1 201.40 398.3)" class="at">Centered Flux (Reaction)</text>
<text transform="matrix(0.8929 0 0 1 470.50 398.3)" class="at">Centered Flux (Metabolite)</text>
<text x="139.4" y="14.25" class="tag">A</text>
<text x="409.1" y="14.25" class="tag">B</text>
<text transform="matrix(0.8696 0 0 1 540.7 199.6)" class="lt">Flux Type</text>
<circle cx="584.1" cy="196.6" r="2.3" fill="#c6ade6" fill-opacity="0.7"/>
<text transform="matrix(0.7692 0 0 1 593.8 199.7)" class="ll">Consumption</text>
<circle cx="642.8" cy="196.6" r="2.3" fill="#45078f" fill-opacity="0.8"/>
<text transform="matrix(0.8308 0 0 1 652.5 199.6)" class="ll">Production</text>
</svg>
</body></html>
